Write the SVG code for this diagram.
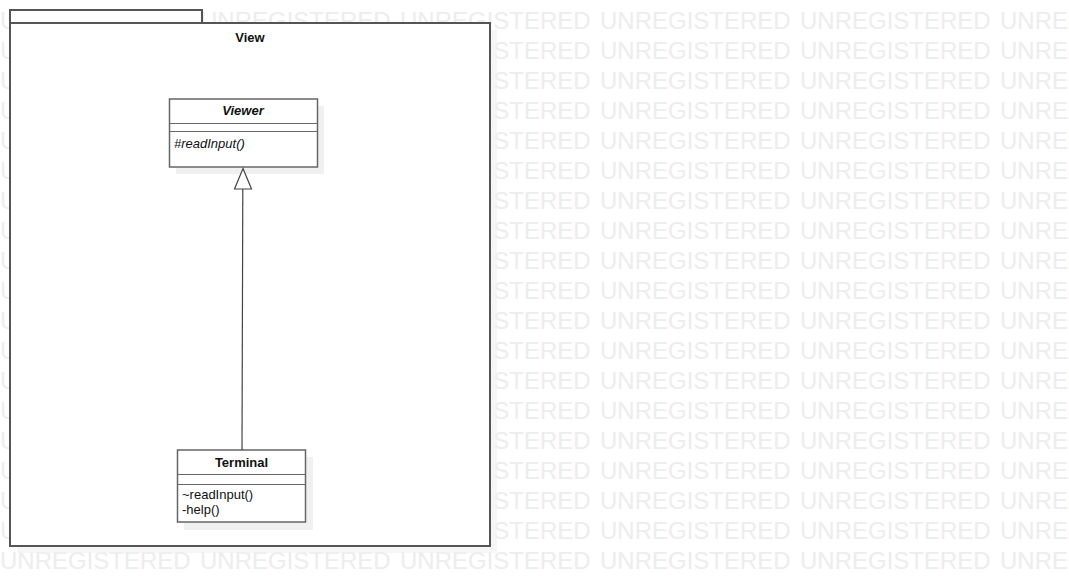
<svg xmlns="http://www.w3.org/2000/svg" width="1069" height="586" viewBox="0 0 1069 586">
<style>
.wm{font-family:"Liberation Sans",Arial,sans-serif;font-size:24px;fill:#ededed}
.box{fill:#fff;stroke:#666;stroke-width:1.5}
.pkg{fill:#fff;stroke:#555;stroke-width:2}
.shadow{fill:#f0f0f0}
.t{font-family:"Liberation Sans",Arial,sans-serif;font-size:13px;fill:#111}
.b{font-weight:bold}
.i{font-style:italic}
.line{stroke:#666;stroke-width:1.2;fill:none}
</style>
<defs>
<g id="wmrow">
<text class="wm" x="0" y="0">UNREGISTERED</text>
<text class="wm" x="200" y="0">UNREGISTERED</text>
<text class="wm" x="400" y="0">UNREGISTERED</text>
<text class="wm" x="600" y="0">UNREGISTERED</text>
<text class="wm" x="800" y="0">UNREGISTERED</text>
<text class="wm" x="1000" y="0">UNREGISTERED</text>
</g>
</defs>
<rect width="1069" height="586" fill="#fff"/>
<g id="watermark">
<use href="#wmrow" y="29"/><use href="#wmrow" y="59"/><use href="#wmrow" y="89"/><use href="#wmrow" y="119"/>
<use href="#wmrow" y="149"/><use href="#wmrow" y="179"/><use href="#wmrow" y="209"/><use href="#wmrow" y="239"/>
<use href="#wmrow" y="269"/><use href="#wmrow" y="299"/><use href="#wmrow" y="329"/><use href="#wmrow" y="359"/>
<use href="#wmrow" y="389"/><use href="#wmrow" y="419"/><use href="#wmrow" y="449"/><use href="#wmrow" y="479"/>
<use href="#wmrow" y="509"/><use href="#wmrow" y="539"/><use href="#wmrow" y="569"/>
</g>
<g id="package-View">
<rect class="shadow" x="17" y="30" width="480" height="523" fill-opacity="0.6"/>
<rect class="pkg" x="10" y="10" width="192" height="13"/>
<rect class="pkg" x="10" y="23" width="480" height="523"/>
<text class="t b" x="250" y="42" text-anchor="middle">View</text>
</g>
<g id="Viewer">
<rect class="shadow" x="176" y="106" width="148" height="68"/>
<rect class="box" x="169.5" y="99" width="148" height="68"/>
<line class="line" x1="169.5" y1="123.5" x2="317.5" y2="123.5"/>
<line class="line" x1="169.5" y1="131.5" x2="317.5" y2="131.5"/>
<text class="t b i" x="243" y="115" text-anchor="middle">Viewer</text>
<text class="t i" x="174" y="148">#readInput()</text>
</g>
<g id="Terminal">
<rect class="shadow" x="184" y="457" width="129" height="73"/>
<rect class="box" x="177.5" y="450" width="128" height="72"/>
<line class="line" x1="177.5" y1="474.5" x2="305.5" y2="474.5"/>
<line class="line" x1="177.5" y1="484.5" x2="305.5" y2="484.5"/>
<text class="t b" x="241.5" y="467" text-anchor="middle">Terminal</text>
<text class="t" x="182" y="499">~readInput()</text>
<text class="t" x="182" y="514">-help()</text>
</g>
<g id="connectors">
<line x1="242" y1="450" x2="242.8" y2="189" stroke="#444" stroke-width="1.2"/>
<polygon points="243,168.5 251.5,189 234.5,189" fill="#fff" stroke="#444" stroke-width="1.2"/>
</g>
</svg>
